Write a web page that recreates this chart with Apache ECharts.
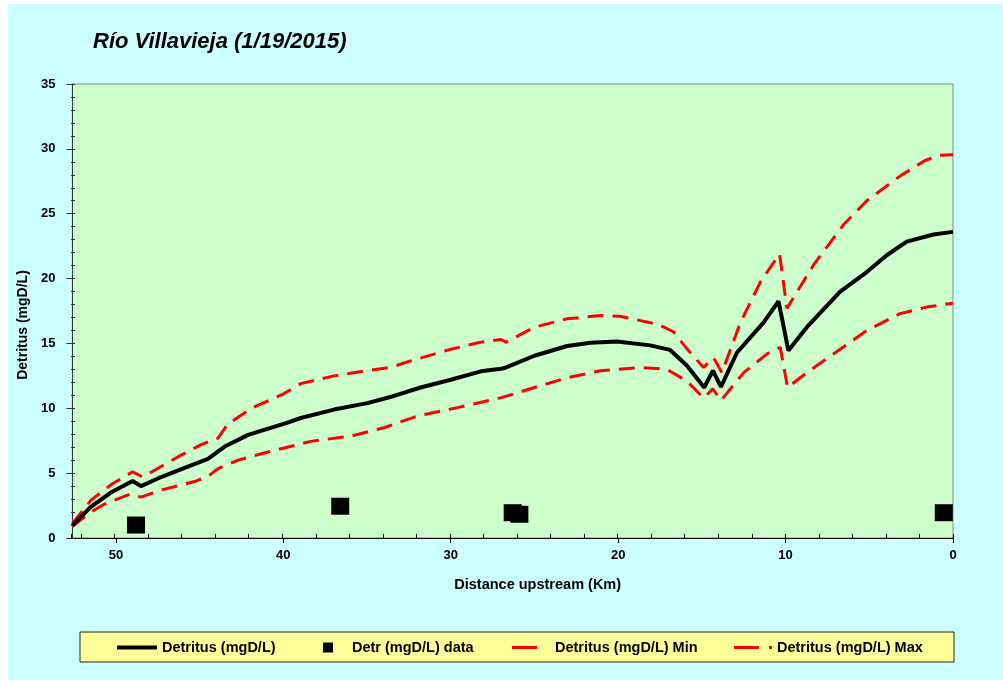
<!DOCTYPE html>
<html>
<head>
<meta charset="utf-8">
<script src="https://cdn.jsdelivr.net/npm/echarts@6/dist/echarts.min.js"></script>
<style>
html,body{margin:0;padding:0;background:#fff;width:1003px;height:680px;overflow:hidden;}
#c{position:absolute;left:8px;top:4px;width:995px;height:676px;}
</style>
</head>
<body>
<div id="c"></div>
<script>
// ---- data (km upstream, mgD/L) ----
const detritusKm  = [52.6,51.5,50.3,49.0,48.5,47.3,45.7,44.5,43.5,42.1,39.75,38.96,36.97,34.98,33.39,31.8,30.0,28.2,27.0,26.8,25.0,23.05,21.66,20.07,18.08,16.9,15.9,14.86,14.34,13.86,12.9,11.32,10.42,9.83,8.73,6.74,5.15,3.96,2.76,1.17,0];
const detritusVal = [0.95,2.4,3.5,4.4,4.0,4.7,5.5,6.1,7.05,7.95,8.9,9.25,9.9,10.4,10.95,11.6,12.2,12.85,13.05,13.1,14.05,14.8,15.05,15.15,14.85,14.5,13.3,11.6,12.9,11.65,14.3,16.6,18.25,14.45,16.25,19.0,20.5,21.8,22.85,23.4,23.6];

const minKm  = [52.6,51.5,50.7,49.1,48.5,47.3,45.3,44.5,43.9,42.7,41.3,38.37,35.98,33.99,32.0,29.6,27.03,25.0,23.05,21.06,18.67,17.08,15.9,14.9,14.34,13.86,12.5,11.1,10.32,9.88,8.73,6.74,5.15,3.16,1.57,0];
const minVal = [0.9,2.0,2.6,3.4,3.15,3.7,4.35,4.75,5.35,6.0,6.5,7.45,7.85,8.5,9.4,10.05,10.8,11.6,12.35,12.9,13.15,13.0,12.1,10.8,11.5,10.6,12.75,14.2,14.7,11.6,12.75,14.55,16.0,17.3,17.8,18.1];

const maxKm  = [52.6,51.5,50.3,49.0,48.4,46.3,44.9,43.9,43.3,41.9,40.0,38.96,36.97,34.98,33.6,32.4,30.0,28.2,27.0,26.7,25.0,23.05,21.06,19.9,18.08,17.5,16.7,15.9,14.9,14.3,13.8,12.7,11.5,10.36,9.92,8.33,6.54,5.15,3.16,1.67,0.8,0];
const maxVal = [1.1,2.9,4.1,5.1,4.7,6.25,7.2,7.7,8.8,10.0,11.1,11.9,12.5,12.9,13.15,13.65,14.55,15.1,15.3,15.1,16.25,16.9,17.15,17.1,16.6,16.4,15.9,14.6,13.15,13.9,12.75,16.6,19.75,21.9,17.7,21.05,24.15,26.0,27.9,29.1,29.5,29.55];

const dataKm  = [48.8,36.6,26.3,25.9,0.55];
const dataVal = [1.0,2.45,1.95,1.83,1.95];

const xTicks = [0,10,20,30,40,50];
const yTicks = [0,5,10,15,20,25,30,35];

const names = ['Detritus (mgD/L)','Detr (mgD/L) data','Detritus (mgD/L) Min','Detritus (mgD/L) Max'];
const titleText = 'Río Villavieja (1/19/2015)';
const xName = 'Distance upstream (Km)';
const yName = 'Detritus (mgD/L)';

const zip = (a,b) => a.map((v,i)=>[v,b[i]]);
const FONT = 'Liberation Sans, Arial, sans-serif';

const chart = echarts.init(document.getElementById('c'));
const gridPos = {left:63, top:80, right:50, bottom:142};
const legendTop = 636;
const legendText = {fontFamily:FONT, fontWeight:'bold', fontSize:14.5, color:'#000'};

chart.setOption({
  backgroundColor:'#CCFFFF',
  animation:false,
  title:{text:titleText,left:80,top:22,textStyle:{fontFamily:FONT,fontStyle:'italic',fontWeight:'bold',fontSize:22,color:'#000'}},
  graphic:[{type:'rect',shape:{x:72,y:628,width:874,height:30},style:{fill:'#FFFF99',stroke:'#222',lineWidth:1},z:0}],
  grid:[
    {...gridPos,show:true,backgroundColor:'#CCFFCC',borderColor:'#888',borderWidth:1},
    {...gridPos,show:false}
  ],
  xAxis:[{
    gridIndex:0,type:'value',inverse:true,min:0,max:52.6,interval:10,
    name:xName,nameLocation:'middle',nameGap:39,
    nameTextStyle:{fontFamily:FONT,fontWeight:'bold',fontSize:14.5,color:'#000',padding:[0,0,0,50]},
    axisLine:{show:true,onZero:false,lineStyle:{color:'#000',width:1}},
    axisTick:{show:true,length:5,lineStyle:{color:'#000'}},
    axisLabel:{margin:11,fontFamily:FONT,fontWeight:'bold',fontSize:13,color:'#000',showMaxLabel:false,
      formatter:v=>xTicks.includes(v)?String(v):''},
    splitLine:{show:false}
  },{
    gridIndex:1,type:'value',inverse:true,min:0,max:52.6,interval:2,position:'bottom',
    axisLine:{show:false,onZero:false},axisTick:{show:true,inside:true,length:4,lineStyle:{color:'#000'}},
    axisLabel:{show:false},splitLine:{show:false}
  }],
  yAxis:[{
    gridIndex:0,type:'value',min:0,max:35,interval:5,
    name:yName,nameLocation:'middle',nameGap:28,nameRotate:90,
    nameTextStyle:{fontFamily:FONT,fontWeight:'bold',fontSize:14,color:'#000',padding:[0,0,0,-28]},
    axisLine:{show:true,onZero:false,lineStyle:{color:'#333',width:1}},
    axisTick:{show:true,length:6,lineStyle:{color:'#333'}},
    axisLabel:{margin:17,fontFamily:FONT,fontWeight:'bold',fontSize:13,color:'#000',
      formatter:v=>yTicks.includes(v)?String(v):''},
    splitLine:{show:false}
  },{
    gridIndex:1,type:'value',min:0,max:35,interval:1,position:'left',
    axisLine:{show:false,onZero:false},axisTick:{show:true,inside:true,length:4,lineStyle:{color:'#333'}},
    axisLabel:{show:false},splitLine:{show:false}
  }],
  legend:[
    {data:[{name:names[0],icon:'rect'}],left:109,top:legendTop,itemWidth:40,itemHeight:4,padding:0,textStyle:legendText},
    {data:[{name:names[1],icon:'rect'}],left:315,top:legendTop,itemWidth:10,itemHeight:10,padding:0,textStyle:{...legendText,padding:[0,0,0,14]}},
    {data:[{name:names[2],icon:'rect'}],left:504,top:legendTop,itemWidth:25,itemHeight:3,padding:0,textStyle:{...legendText,padding:[0,0,0,13]}},
    {data:[{name:names[3],icon:'path://M0,0H25V3H0Z M35,0H38V3H35Z'}],left:726,top:legendTop,itemWidth:38,itemHeight:3,padding:0,textStyle:legendText}
  ],
  series:[
    {name:names[2],type:'line',xAxisIndex:0,yAxisIndex:0,data:zip(minKm,minVal),symbol:'none',color:'#FF0000',
      lineStyle:{color:'#FF0000',width:3,type:[16,9]},z:3},
    {name:names[3],type:'line',xAxisIndex:0,yAxisIndex:0,data:zip(maxKm,maxVal),symbol:'none',color:'#FF0000',
      lineStyle:{color:'#FF0000',width:3,type:[16,9]},z:3},
    {name:names[0],type:'line',xAxisIndex:0,yAxisIndex:0,data:zip(detritusKm,detritusVal),symbol:'none',color:'#000',
      lineStyle:{color:'#000',width:4},z:4},
    {name:names[1],type:'scatter',xAxisIndex:0,yAxisIndex:0,data:zip(dataKm,dataVal),symbol:'rect',symbolSize:[18,17],
      itemStyle:{color:'#000',opacity:1},z:5}
  ]
});
</script>
</body>
</html>
